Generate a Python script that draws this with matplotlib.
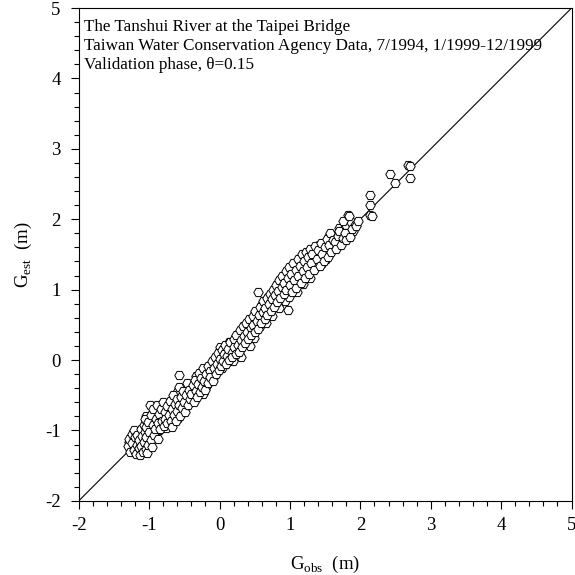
import numpy as np
import matplotlib
matplotlib.use("Agg")
import matplotlib.pyplot as plt
from matplotlib.ticker import MultipleLocator

plt.rcParams['font.family'] = 'Liberation Serif'
plt.rcParams['mathtext.fontset'] = 'custom'
plt.rcParams['mathtext.rm'] = 'Liberation Serif'
plt.rcParams['axes.unicode_minus'] = False

g_obs = [-1.30, -1.28, -1.27, -1.25, -1.24, -1.22, -1.21, -1.20, -1.19, -1.18,
         -1.17, -1.15, -1.14, -1.13, -1.12, -1.11, -1.10, -1.09, -1.08, -1.07,
         -1.06, -1.06, -1.05, -1.05, -1.04, -1.03, -1.02, -1.01, -1.00, -0.99,
         -0.98, -0.97, -0.96, -0.95, -0.94, -0.93, -0.92, -0.90, -0.89, -0.88,
         -0.87, -0.86, -0.84, -0.83, -0.82, -0.80, -0.79, -0.78, -0.77, -0.75,
         -0.74, -0.72, -0.70, -0.69, -0.68, -0.67, -0.66, -0.65, -0.64, -0.62,
         -0.61, -0.60, -0.58, -0.57, -0.57, -0.56, -0.55, -0.53, -0.52, -0.50,
         -0.49, -0.48, -0.46, -0.45, -0.44, -0.42, -0.40, -0.38, -0.37, -0.35,
         -0.34, -0.32, -0.30, -0.29, -0.28, -0.26, -0.25, -0.23, -0.22, -0.20,
         -0.19, -0.17, -0.16, -0.14, -0.13, -0.11, -0.10, -0.08, -0.07, -0.05,
         -0.04, -0.02, -0.01, 0.00, 0.02, 0.03, 0.05, 0.06, 0.08, 0.09,
         0.11, 0.12, 0.14, 0.15, 0.17, 0.18, 0.20, 0.21, 0.23, 0.24,
         0.26, 0.27, 0.29, 0.30, 0.32, 0.33, 0.35, 0.36, 0.38, 0.39,
         0.41, 0.42, 0.44, 0.45, 0.47, 0.48, 0.50, 0.51, 0.53, 0.54,
         0.55, 0.56, 0.58, 0.59, 0.61, 0.62, 0.64, 0.65, 0.67, 0.68,
         0.70, 0.71, 0.73, 0.74, 0.76, 0.77, 0.79, 0.80, 0.82, 0.83,
         0.85, 0.86, 0.88, 0.89, 0.91, 0.92, 0.94, 0.95, 0.97, 0.97,
         0.99, 1.00, 1.02, 1.03, 1.05, 1.06, 1.08, 1.09, 1.11, 1.12,
         1.14, 1.15, 1.17, 1.18, 1.20, 1.21, 1.23, 1.24, 1.26, 1.27,
         1.29, 1.30, 1.32, 1.34, 1.36, 1.38, 1.40, 1.42, 1.44, 1.46,
         1.48, 1.50, 1.52, 1.54, 1.56, 1.57, 1.59, 1.61, 1.64, 1.66,
         1.68, 1.70, 1.72, 1.75, 1.76, 1.78, 1.80, 1.82, 1.84, 1.85,
         1.88, 1.94, 1.96, 2.14, 2.14, 2.14, 2.16, 2.42, 2.49, 2.67,
         2.70, 2.70]
g_est = [-1.22, -1.12, -1.30, -1.05, -1.18, -1.28, -1.00, -1.10, -1.34, -1.20,
         -1.06, -1.25, -1.14, -1.35, -0.98, -1.22, -1.08, -1.30, -0.92, -1.16,
         -1.02, -0.84, -1.26, -0.95, -1.10, -1.32, -0.88, -1.20, -1.02, -0.64,
         -1.14, -0.78, -1.24, -0.92, -0.70, -1.06, -0.98, -0.84, -0.64, -1.12,
         -0.90, -0.76, -0.98, -0.70, -0.86, -0.60, -0.94, -0.74, -0.84, -0.66,
         -0.90, -0.78, -0.58, -0.86, -0.95, -0.70, -0.49, -0.78, -0.62, -0.86,
         -0.55, -0.72, -0.64, -0.38, -0.21, -0.80, -0.52, -0.68, -0.44, -0.60,
         -0.74, -0.50, -0.32, -0.64, -0.42, -0.56, -0.48, -0.36, -0.60, -0.28,
         -0.44, -0.52, -0.34, -0.18, -0.46, -0.26, -0.38, -0.12, -0.30, -0.42,
         -0.20, -0.08, -0.32, -0.16, -0.24, -0.02, -0.30, -0.12, 0.04, -0.20,
         -0.06, 0.10, -0.14, 0.02, -0.08, 0.14, -0.02, 0.08, 0.22, -0.06,
         0.06, 0.16, 0.00, 0.26, 0.10, 0.04, 0.30, 0.18, 0.08, 0.36,
         0.22, 0.12, 0.42, 0.28, 0.18, 0.48, 0.34, 0.24, 0.52, 0.40,
         0.30, 0.58, 0.46, 0.36, 0.62, 0.50, 0.40, 0.70, 0.56, 0.97,
         0.44, 0.64, 0.76, 0.52, 0.68, 0.84, 0.58, 0.74, 0.88, 0.64,
         0.80, 0.94, 0.70, 0.86, 1.00, 0.76, 0.92, 1.06, 0.82, 0.98,
         1.14, 0.88, 1.04, 1.20, 0.94, 1.10, 1.26, 1.00, 0.71, 1.16,
         1.32, 1.06, 1.22, 0.96, 1.38, 1.14, 1.28, 1.02, 1.44, 1.20,
         1.34, 1.10, 1.50, 1.26, 1.40, 1.16, 1.54, 1.32, 1.46, 1.22,
         1.58, 1.38, 1.50, 1.28, 1.62, 1.44, 1.56, 1.34, 1.66, 1.50,
         1.40, 1.60, 1.72, 1.46, 1.64, 1.80, 1.54, 1.70, 1.68, 1.58,
         1.76, 1.84, 1.64, 1.97, 1.74, 1.80, 1.70, 2.06, 2.05, 1.75,
         1.86, 1.90, 1.97, 2.35, 2.20, 2.06, 2.05, 2.64, 2.52, 2.77,
         2.75, 2.59]

# further points hidden in the dense part of the band
g_obs2 = [-1.29, -1.26, -1.23, -1.16, -1.12, -1.09, -1.07, -1.04, -1.03, -1.01,
          -0.97, -0.95, -0.91, -0.90, -0.86, -0.85, -0.81, -0.78, -0.76, -0.73,
          -0.71, -0.68, -0.63, -0.60, -0.59, -0.54, -0.51, -0.47, -0.43, -0.41,
          -0.39, -0.36, -0.33, -0.31, -0.27, -0.24, -0.21, -0.18, -0.15, -0.12,
          -0.09, -0.06, -0.03, 0.01, 0.04, 0.07, 0.10, 0.13, 0.16, 0.19,
          0.22, 0.25, 0.28, 0.31, 0.34, 0.37, 0.40, 0.43, 0.46, 0.49,
          0.52, 0.57, 0.60, 0.63, 0.66, 0.69, 0.72, 0.75, 0.78, 0.81,
          0.84, 0.87, 0.90, 0.93, 0.96, 0.98, 1.01, 1.04, 1.07, 1.10,
          1.13, 1.16, 1.19, 1.22, 1.25, 1.28, 1.31, 1.33, 1.35, 1.37,
          1.39, 1.41, 1.43, 1.45, 1.47, 1.49, 1.51, 1.53, 1.55, 1.58,
          1.60, 1.62, 1.65, 1.67, 1.69, 1.71, 1.73, 1.77, 1.79, 1.81,
          1.86, 1.90, 1.92]
g_est2 = [-1.16, -1.24, -1.08, -1.30, -1.12, -1.02, -1.24, -0.80, -0.98, -1.08,
          -1.00, -0.75, -0.92, -0.70, -1.00, -0.82, -0.76, -0.66, -0.96, -0.70,
          -0.82, -0.60, -0.72, -0.46, -0.82, -0.60, -0.54, -0.66, -0.34, -0.58,
          -0.44, -0.52, -0.22, -0.40, -0.34, -0.48, -0.14, -0.36, -0.10, -0.18,
          -0.26, 0.02, -0.16, 0.18, -0.12, 0.00, 0.12, 0.26, 0.18, -0.02,
          0.24, 0.14, 0.34, 0.04, 0.40, 0.30, 0.48, 0.20, 0.56, 0.32,
          0.60, 0.48, 0.80, 0.66, 0.52, 0.90, 0.78, 0.62, 0.98, 0.90,
          0.74, 1.10, 1.00, 0.84, 1.22, 0.90, 1.30, 1.08, 1.20, 0.96,
          1.40, 1.28, 1.08, 1.46, 1.36, 1.16, 1.54, 1.42, 1.32, 1.58,
          1.48, 1.64, 1.52, 1.38, 1.66, 1.54, 1.44, 1.62, 1.76, 1.58,
          1.66, 1.78, 1.72, 1.62, 1.88, 1.78, 1.70, 1.86, 1.92, 1.80,
          1.96, 1.84, 1.92]

fig = plt.figure(figsize=(5.75, 5.75), dpi=100)
ax = fig.add_axes([0.137, 0.129, 0.857, 0.857])

ax.plot([-2, 5], [-2, 5], color='black', lw=0.8, zorder=1)
ax.plot(g_obs2, g_est2, 'H', ms=6.8, mfc='white', mec='black', mew=0.7,
        ls='none', zorder=2)
ax.plot(g_obs, g_est, 'H', ms=6.8, mfc='white', mec='black', mew=0.7,
        ls='none', zorder=2)

ax.set_xlim(-2, 5)
ax.set_ylim(-2, 5)
ax.xaxis.set_major_locator(MultipleLocator(1))
ax.yaxis.set_major_locator(MultipleLocator(1))
ax.xaxis.set_minor_locator(MultipleLocator(0.2))
ax.yaxis.set_minor_locator(MultipleLocator(0.2))
ax.tick_params(which='major', length=6, width=0.8, labelsize=13.5, pad=7)
ax.tick_params(which='minor', length=3.5, width=0.8)
ax.tick_params(axis='x', pad=6)

ax.set_xlabel(r'G$_\mathrm{obs}$  (m)', fontsize=13.5, labelpad=14)
ax.set_ylabel(r'G$_\mathrm{est}$  (m)', fontsize=13.5, labelpad=8)

ax.text(0.01, 0.978, 'The Tanshui River at the Taipei Bridge\n'
        'Taiwan Water Conservation Agency Data, 7/1994, 1/1999-12/1999\n'
        'Validation phase, \u03b8=0.15',
        transform=ax.transAxes, ha='left', va='top', fontsize=12.3,
        linespacing=1.25)

fig.savefig('out.png', dpi=100)
